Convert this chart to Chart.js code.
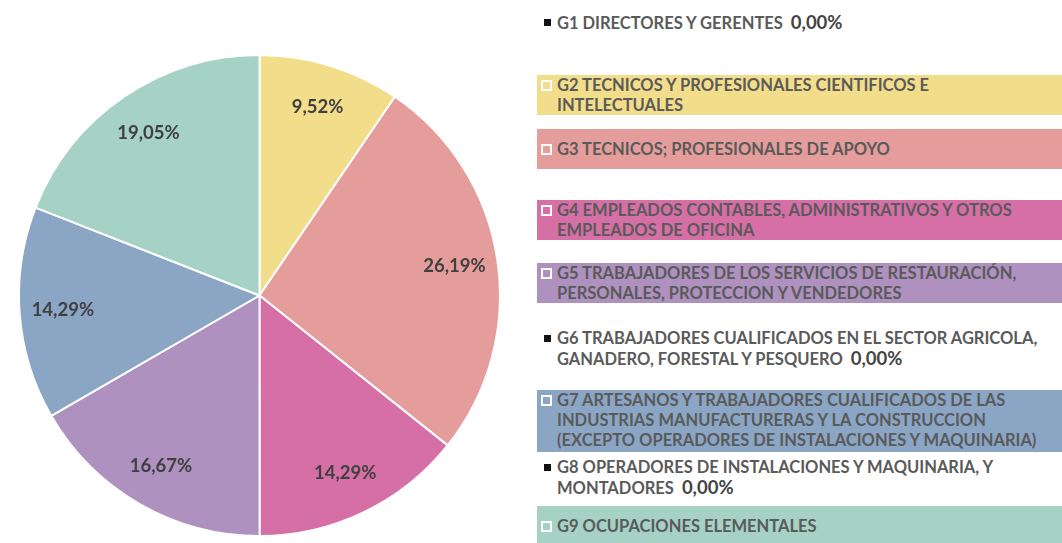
<!DOCTYPE html>
<html>
<head>
<meta charset="utf-8">
<script src="https://cdn.jsdelivr.net/npm/chart.js@4/dist/chart.umd.min.js"></script>
<style>
  body { margin:0; background:#fff; font-family:Lato, "Open Sans", sans-serif; }
  #wrap { position:relative; width:1062px; height:543px; overflow:hidden; }
  #pieBox { position:absolute; left:18px; top:54px; width:483px; height:483px; }
  .item { position:absolute; left:537px; right:0; min-height:40px; display:flex; align-items:center;
          font-weight:700; font-size:16.5px; line-height:20px; color:#5a5a5a; white-space:pre-line; }
  .item .mark { position:absolute; left:4px; box-sizing:border-box; }
  .item .txt { padding-left:20px; }
  .item .pct { font-size:18.5px; color:#444; margin-left:8px; }
</style>
</head>
<body>
<div id="wrap">
  <div id="pieBox"><canvas id="pie"></canvas></div>
  <div id="legend"></div>
</div>
<script>
const categories = [
  "G1 DIRECTORES Y GERENTES",
  "G2 TECNICOS Y PROFESIONALES CIENTIFICOS E\nINTELECTUALES",
  "G3 TECNICOS; PROFESIONALES DE APOYO",
  "G4 EMPLEADOS CONTABLES, ADMINISTRATIVOS Y OTROS\nEMPLEADOS DE OFICINA",
  "G5 TRABAJADORES DE LOS SERVICIOS DE RESTAURACIÓN,\nPERSONALES, PROTECCION Y VENDEDORES",
  "G6 TRABAJADORES CUALIFICADOS EN EL SECTOR AGRICOLA,\nGANADERO, FORESTAL Y PESQUERO",
  "G7 ARTESANOS Y TRABAJADORES CUALIFICADOS DE LAS\nINDUSTRIAS MANUFACTURERAS Y LA CONSTRUCCION\n(EXCEPTO OPERADORES DE INSTALACIONES Y MAQUINARIA)",
  "G8 OPERADORES DE INSTALACIONES Y MAQUINARIA, Y\nMONTADORES",
  "G9 OCUPACIONES ELEMENTALES"
];
const percentages = [0, 9.52, 26.19, 14.29, 16.67, 0, 14.29, 0, 19.05];
const colors = ["#222222", "#F2DE8A", "#E59D9B", "#D56FA6", "#AE91BF", "#222222", "#8BA6C5", "#222222", "#A5D2C4"];

// legend row tops (layout only)
const legendTops = [2, 75, 129, 200, 263, 328, 390, 457, 506];

const fmt = v => v.toFixed(2).replace(".", ",") + "%";

const legend = document.getElementById("legend");
categories.forEach((c, i) => {
  const div = document.createElement("div");
  div.className = "item";
  div.style.top = legendTops[i] + "px";
  const zero = percentages[i] === 0;
  const lines = c.split("\n").length;
  if (!zero) div.style.background = colors[i];
  if (lines > 2) div.style.minHeight = "62px";
  const mark = document.createElement("span");
  mark.className = "mark";
  if (zero) {
    mark.style.cssText = "width:7px;height:7px;background:#111;left:7px;";
  } else {
    mark.style.cssText = "width:11px;height:11px;border:2px solid #fff;background:" + colors[i] + ";";
  }
  if (lines > 1) {
    div.style.alignItems = "flex-start";
    mark.style.top = (10 - (zero ? 3.5 : 5.5)) + "px";
  }
  const txt = document.createElement("span");
  txt.className = "txt";
  txt.textContent = c;
  if (zero) {
    const p = document.createElement("span");
    p.className = "pct";
    p.textContent = fmt(percentages[i]);
    txt.appendChild(p);
  }
  div.appendChild(mark);
  div.appendChild(txt);
  legend.appendChild(div);
});

const sliceLabels = {
  id: "sliceLabels",
  afterDatasetsDraw(chart) {
    const ctx = chart.ctx;
    const meta = chart.getDatasetMeta(0);
    ctx.save();
    ctx.font = "bold 18.5px Lato, sans-serif";
    ctx.fillStyle = "#404040";
    ctx.textAlign = "center";
    ctx.textBaseline = "middle";
    meta.data.forEach((arc, i) => {
      const v = chart.data.datasets[0].data[i];
      if (!v) return;
      const p = arc.getProps(["x", "y", "startAngle", "endAngle", "outerRadius"], true);
      const a = (p.startAngle + p.endAngle) / 2;
      const r = p.outerRadius * 0.82;
      ctx.fillText(fmt(v), p.x + Math.cos(a) * r, p.y + Math.sin(a) * r);
    });
    ctx.restore();
  }
};

new Chart(document.getElementById("pie").getContext("2d"), {
  type: "pie",
  data: {
    labels: categories,
    datasets: [{ data: percentages, backgroundColor: colors, borderColor: "#ffffff", borderWidth: 2 }]
  },
  options: {
    responsive: true,
    maintainAspectRatio: false,
    animation: false,
    plugins: { legend: { display: false }, tooltip: { enabled: false } }
  },
  plugins: [sliceLabels]
});
</script>
</body>
</html>
